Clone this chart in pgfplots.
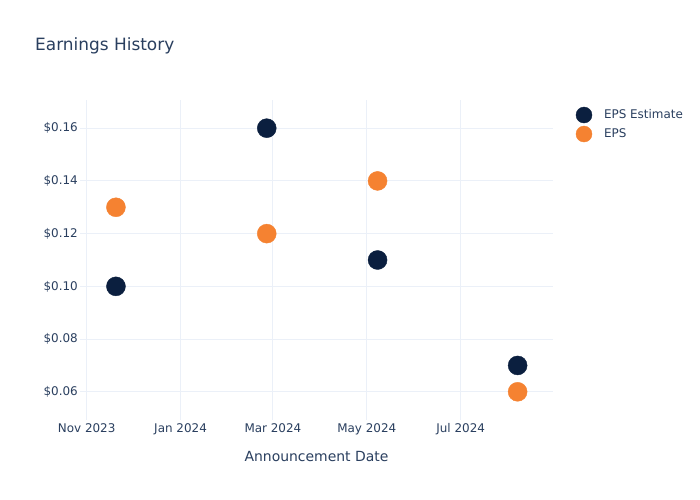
\documentclass[border=0pt]{standalone}
\usepackage{pgfplots}
\pgfplotsset{compat=1.18}
\usepackage{fontspec}
\setmainfont{DejaVu Sans}
\definecolor{navy}{RGB}{11,31,63}
\definecolor{orng}{RGB}{245,130,49}
\definecolor{txt}{HTML}{2A3F5F}
\definecolor{grd}{HTML}{EBF0F8}
% x values: days after 1 Nov 2023
\pgfplotstableread{
day eps
19 0.10
117 0.16
189 0.11
280 0.07
}\estimate
\pgfplotstableread{
day eps
19 0.13
117 0.12
189 0.14
280 0.06
}\actual
\begin{document}
\begin{tikzpicture}[x=1bp,y=1bp]
\path[fill=white] (0,0) rectangle (700,500);
\node[anchor=base west, text=txt, font=\fontsize{17}{20}\selectfont, inner sep=0] at (35,449) {Earnings History};
\begin{axis}[
  at={(80bp,80bp)}, anchor=south west, scale only axis,
  width=473bp, height=320bp,
  xmin=-4.35, xmax=303, ymin=0.0493, ymax=0.1707,
  axis line style={draw=none}, major tick length=0pt,
  xtick={0,61,121,182,243},
  xticklabels={Nov 2023, Jan 2024, Mar 2024, May 2024, Jul 2024},
  ytick={0.06,0.08,0.10,0.12,0.14,0.16},
  yticklabel={\$\pgfmathprintnumber[fixed,fixed zerofill,precision=2,assume math mode=true]{\tick}},
  /pgf/number format/assume math mode=true,
  ticklabel style={font=\fontsize{12}{14}\selectfont, text=txt, inner sep=0pt},
  yticklabel style={xshift=-2bp},
  xticklabel style={yshift=-3bp},
  grid=major, major grid style={draw=grd, line width=1bp},
  xlabel={Announcement Date},
  xlabel style={at={(axis description cs:0.5,0)}, anchor=north, yshift=-31bp, inner sep=0pt, font=\fontsize{14}{16}\selectfont, text=txt},
  legend image code/.code={\draw[#1, mark size=8bp] plot coordinates {(0bp,0bp)};},
  legend style={at={(axis description cs:1.0486,0.978)}, anchor=north west, draw=none, fill=none, inner sep=0pt, outer sep=0pt,
    nodes={inner sep=0pt, text=txt, font=\fontsize{12}{14}\selectfont}, column sep=12bp, row sep=3bp},
  legend cell align=left,
  clip=false,
]
\addplot[only marks, mark=*, mark size=9.5bp, color=navy, mark options={draw=none, fill=navy}] table[x=day, y=eps] {\estimate};
\addlegendentry{EPS Estimate}
\addplot[only marks, mark=*, mark size=9.5bp, color=orng, mark options={draw=none, fill=orng}] table[x=day, y=eps] {\actual};
\addlegendentry{EPS}
\end{axis}
\end{tikzpicture}
\end{document}
